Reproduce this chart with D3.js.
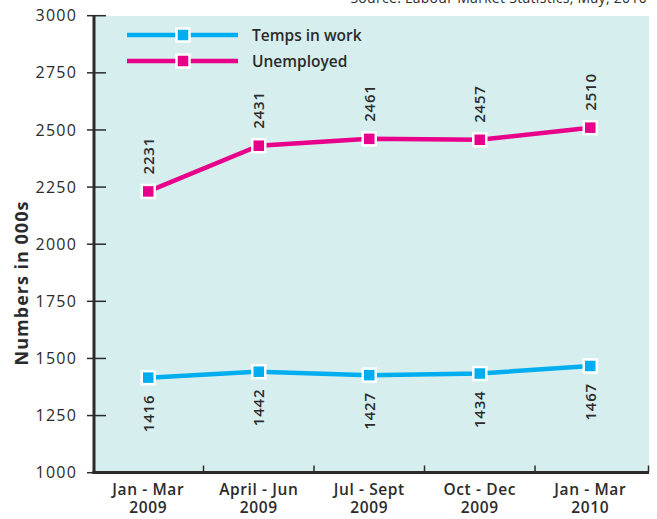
<!DOCTYPE html>
<html><head><meta charset="utf-8">
<script src="https://cdn.jsdelivr.net/npm/d3@7"></script>
<style>body{margin:0;background:#fff}svg{display:block;font-family:"Open Sans",sans-serif}</style>
</head><body>
<svg id="c" width="657" height="519"></svg>
<script>
const categoryPeriods = ["Jan - Mar","April - Jun","Jul - Sept","Oct - Dec","Jan - Mar"];
const categoryYears = ["2009","2009","2009","2009","2010"];
const tempsInWork = [1416,1442,1427,1434,1467];
const unemployed = [2231,2431,2461,2457,2510];
const seriesNames = ["Temps in work","Unemployed"];
const seriesColors = ["#00aeef","#e8008a"];
const yTicks = [1000,1250,1500,1750,2000,2250,2500,2750,3000];
const yTitle = "Numbers in 000s";
const sourceText = "Source: Labour Market Statistics, May, 2010";

const svg = d3.select("#c");
const ink = "#2b2b2b";
const pLeft = 94, pRight = 649, pTop = 16, pBottom = 472.5;

const idx = d3.range(categoryPeriods.length);
const x = d3.scaleBand().domain(idx).range([93, 645.5]);
const y = d3.scaleLinear().domain([1000,3000]).range([472.7, 15.7]);

// background
svg.append("rect").attr("x", pLeft).attr("y", pTop).attr("width", pRight-pLeft).attr("height", pBottom-pTop).attr("fill", "#d6eeee");

// source
svg.append("text").attr("x", 647).attr("y", 3).attr("text-anchor","end").attr("font-size",14).attr("letter-spacing",0.3).attr("fill",ink).text(sourceText);

// y axis
const yAxis = d3.axisLeft(y).tickValues(yTicks).tickSize(0).tickPadding(17).tickFormat(d3.format("d"));
const ya = svg.append("g").attr("transform",`translate(${pLeft},0)`).call(yAxis);
ya.select(".domain").remove();
ya.selectAll("text").attr("font-size",16).attr("letter-spacing",1.2).attr("fill",ink).attr("font-family","'Open Sans',sans-serif");
svg.append("g").selectAll("line").data(yTicks).join("line")
  .attr("x1",87).attr("x2",106).attr("y1",d=>y(d)).attr("y2",d=>y(d))
  .attr("stroke",ink).attr("stroke-width",1.5);
svg.append("line").attr("x1",pLeft).attr("x2",pLeft).attr("y1",y(3000)).attr("y2",pBottom+1.5).attr("stroke",ink).attr("stroke-width",3);

// x axis
svg.append("line").attr("x1",pLeft-1.5).attr("x2",pRight).attr("y1",pBottom).attr("y2",pBottom).attr("stroke",ink).attr("stroke-width",3);
const bounds = idx.slice(1).map(i=>x(i)).concat([pRight-0.5]);
svg.append("g").selectAll("line").data(bounds).join("line")
  .attr("x1",d=>d).attr("x2",d=>d).attr("y1",pBottom-7).attr("y2",pBottom)
  .attr("stroke",ink).attr("stroke-width",1.5);
const xl = svg.append("g").selectAll("text").data(idx).join("text")
  .attr("x",i=>x(i)+x.bandwidth()/2).attr("text-anchor","middle")
  .attr("font-size",15.5).attr("font-weight",600).attr("letter-spacing",0.6).attr("fill",ink);
xl.append("tspan").attr("x",i=>x(i)+x.bandwidth()/2).attr("y",494.5).text(i=>categoryPeriods[i]);
xl.append("tspan").attr("x",i=>x(i)+x.bandwidth()/2).attr("y",513).text(i=>categoryYears[i]);

// y title
svg.append("text").attr("transform","translate(22,283) rotate(-90)").attr("text-anchor","middle").attr("dy","0.35em")
  .attr("font-size",18).attr("font-weight","bold").attr("letter-spacing",1).attr("fill",ink).text(yTitle);

// series
const cx = i => x(i) + x.bandwidth()/2;
const series = [tempsInWork, unemployed];
const line = d3.line().x((d,i)=>cx(i)).y(d=>y(d));
series.forEach((vals, s) => {
  const g = svg.append("g");
  g.append("path").datum(vals).attr("d", line).attr("fill","none").attr("stroke",seriesColors[s]).attr("stroke-width",4.5);
  g.selectAll("rect").data(vals).join("rect")
    .attr("x",(d,i)=>cx(i)-6.5).attr("y",d=>y(d)-6.5).attr("width",13).attr("height",13)
    .attr("fill",seriesColors[s]).attr("stroke","#fff").attr("stroke-width",2.5);
  const above = s === 1;
  g.selectAll("text").data(vals).join("text")
    .attr("transform",(d,i)=>`translate(${cx(i)},${y(d)+(above?-17:17)}) rotate(-90)`)
    .attr("text-anchor", above ? "start" : "end").attr("dy","0.35em")
    .attr("font-size",15).attr("font-weight",600).attr("letter-spacing",0.8).attr("fill",ink).text(d=>d);
});

// legend
const lg = svg.append("g");
seriesNames.forEach((name, s) => {
  const ly = 35 + s*26;
  lg.append("line").attr("x1",127).attr("x2",238).attr("y1",ly).attr("y2",ly).attr("stroke",seriesColors[s]).attr("stroke-width",4.5);
  lg.append("rect").attr("x",183-6.5).attr("y",ly-6.5).attr("width",13).attr("height",13).attr("fill",seriesColors[s]).attr("stroke","#fff").attr("stroke-width",2.5);
  lg.append("text").attr("x",252).attr("y",ly+5.5).attr("font-size",15.5).attr("font-weight",600).attr("fill",ink).text(name);
});
</script>
</body></html>
